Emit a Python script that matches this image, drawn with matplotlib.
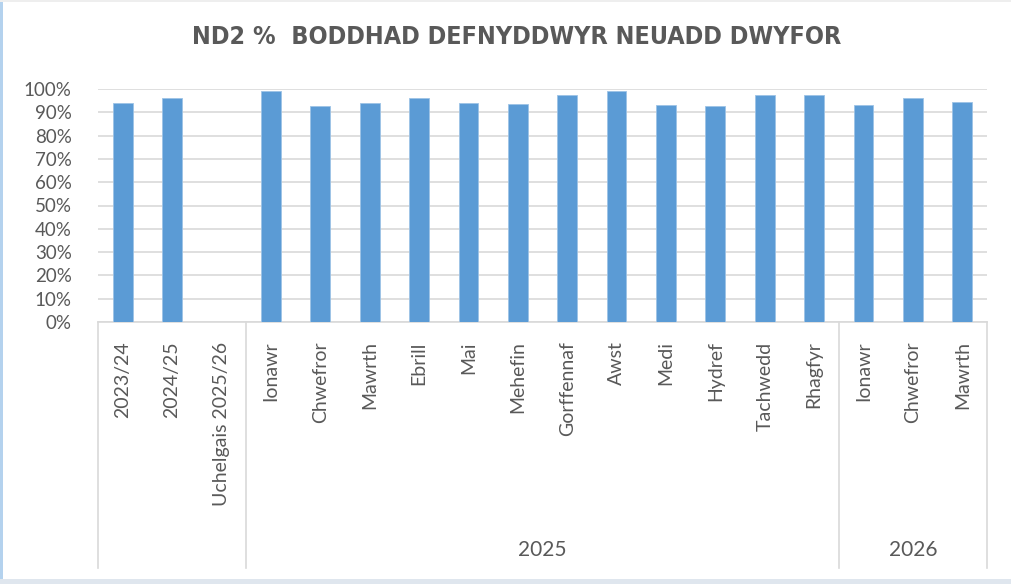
import matplotlib as mpl
mpl.use('Agg')
import matplotlib.pyplot as plt
from matplotlib.lines import Line2D
from matplotlib.patches import Rectangle
import numpy as np

# data
categories = ['2023/24', '2024/25', 'Uchelgais 2025/26',
              'Ionawr', 'Chwefror', 'Mawrth', 'Ebrill', 'Mai', 'Mehefin',
              'Gorffennaf', 'Awst', 'Medi', 'Hydref', 'Tachwedd', 'Rhagfyr',
              'Ionawr', 'Chwefror', 'Mawrth']
values = [0.94, 0.96, np.nan,
          0.99, 0.925, 0.94, 0.96, 0.94, 0.935,
          0.975, 0.99, 0.93, 0.925, 0.975, 0.975,
          0.93, 0.96, 0.945]
groups = ['', '2025', '2026']
group_edges = [-0.5, 2.5, 14.5, 17.5]
yticks = np.arange(0, 1.01, 0.1)

title = 'ND2 %  BODDHAD DEFNYDDWYR NEUADD DWYFOR'

txt = '#595959'
grid = '#d9d9d9'
bar_col = '#5b9bd5'

plt.rcParams['font.family'] = ['Lato', 'DejaVu Sans']

fig = plt.figure(figsize=(10.11, 5.84), dpi=100)
ax = fig.add_axes([98/1011, 1-322/584, (987-98)/1011, (322-89)/584])

x = np.arange(len(categories))
ax.bar(x, values, width=0.4, color=bar_col, edgecolor='#9dc3e6', linewidth=0.6, zorder=3)

ax.set_xlim(-0.5, len(categories)-0.5)
ax.set_ylim(0, 1)
ax.set_yticks(yticks)
ax.set_yticklabels(['%d%%' % round(v*100) for v in yticks], color=txt, fontsize=13.5)
ax.yaxis.grid(True, color=grid, linewidth=1.2, zorder=0)
ax.tick_params(axis='y', length=0, pad=19)
ax.set_xticks(x)
ax.set_xticklabels(categories, rotation=90, color=txt, fontsize=14, va='top')
ax.tick_params(axis='x', length=0, pad=14)
for s in ['top', 'right', 'left']:
    ax.spines[s].set_visible(False)
ax.spines['bottom'].set_color(grid)
ax.spines['bottom'].set_linewidth(1.2)

# group separators and labels below the axis
trans = ax.get_xaxis_transform()
for e in group_edges:
    ax.add_line(Line2D([e, e], [0, -1.056], transform=trans, color=grid,
                       linewidth=1.2, clip_on=False))
for i, g in enumerate(groups):
    if g:
        mid = (group_edges[i] + group_edges[i+1]) / 2
        ax.text(mid, -0.979, g, transform=trans, ha='center', va='center',
                color=txt, fontsize=15)

fig.text(517/1011, 1-37/584, title, ha='center', va='center', color=txt,
         fontsize=18, fontweight='bold', fontstretch='condensed',
         family=['DejaVu Sans'])

# frame of the screenshot
fig.add_artist(Rectangle((0, 0), 3/1011, 1, transform=fig.transFigure,
                         facecolor='#b4d2ee', edgecolor='none'))
fig.add_artist(Rectangle((0, 0), 1, 5/584, transform=fig.transFigure,
                         facecolor='#dfe6ee', edgecolor='none'))
fig.add_artist(Rectangle((0, 1-2/584), 1, 2/584, transform=fig.transFigure,
                         facecolor='#eeeeee', edgecolor='none'))

fig.savefig('out.png', dpi=100)
